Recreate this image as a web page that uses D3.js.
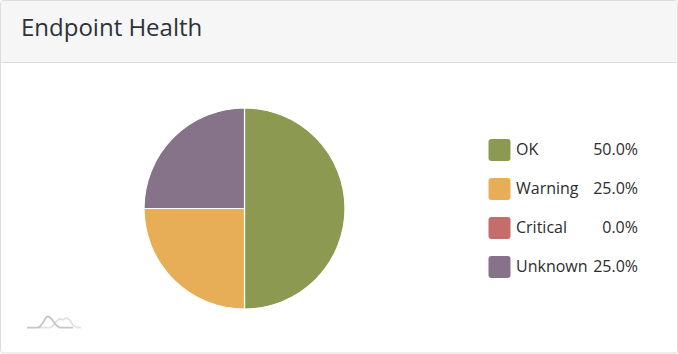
<!DOCTYPE html>
<html>
<head>
<meta charset="utf-8">
<script src="https://cdnjs.cloudflare.com/ajax/libs/d3/7.8.5/d3.min.js"></script>
<style>
	html, body { margin: 0; padding: 0; background: #fff; }
	text { font-family: "Open Sans", sans-serif; }
</style>
</head>
<body>
<div id="wrapper"></div>
<script>
const title = "Endpoint Health";
const categories = ["OK", "Warning", "Critical", "Unknown"];
const shares = [50.0, 25.0, 0.0, 25.0];
const colors = ["#8c9a51", "#e8ad57", "#c56d6b", "#867389"];

const width = 678, height = 354;

const svg = d3.select("#wrapper")
	.append("svg")
	.attr("width", width)
	.attr("height", height)
	.style("display", "block");

// panel and header

svg.append("rect")
	.attr("x", 0.5).attr("y", 0.5)
	.attr("width", width - 1).attr("height", 352.5)
	.attr("rx", 3)
	.attr("fill", "#fff")
	.attr("stroke", "#dddddd");

svg.append("path")
	.attr("d", "M1,62V3.5Q1,1 3.5,1H674.5Q677,1 677,3.5V62Z")
	.attr("fill", "#f6f6f6");

svg.append("line")
	.attr("x1", 1).attr("x2", width - 1)
	.attr("y1", 62.5).attr("y2", 62.5)
	.attr("stroke", "#dddddd");

svg.append("text")
	.attr("x", 21)
	.attr("y", 36)
	.attr("font-size", 24)
	.attr("fill", "#2d323a")
	.text(title);

// pie

const pie = d3.pie().sort(null).value(d => d.share);
const arc = d3.arc().innerRadius(0).outerRadius(100.5);
const slices = categories.map((c, i) => ({ name: c, share: shares[i], color: colors[i] }));

svg.append("g")
	.attr("transform", "translate(244.5,208.5)")
	.selectAll("path")
	.data(pie(slices))
	.join("path")
	.attr("d", arc)
	.attr("fill", d => d.data.color)
	.attr("stroke", "#fff")
	.attr("stroke-width", 1.2);

// legend

const yScale = d3.scalePoint().domain(categories).range([149, 266]);

const rows = svg.append("g")
	.selectAll("g")
	.data(slices)
	.join("g")
	.attr("transform", d => `translate(0,${yScale(d.name)})`);

rows.append("rect")
	.attr("x", 488.5).attr("y", -10)
	.attr("width", 22).attr("height", 22)
	.attr("rx", 3)
	.attr("fill", d => d.color);

rows.append("text")
	.attr("x", 516)
	.attr("y", 6)
	.attr("font-size", 16)
	.attr("fill", "#2d2d2d")
	.text(d => d.name);

rows.append("text")
	.attr("x", 638)
	.attr("y", 6)
	.attr("text-anchor", "end")
	.attr("font-size", 16)
	.attr("fill", "#2d2d2d")
	.text(d => d.share.toFixed(1) + "%");

// small logo bottom left

const logo = svg.append("g").attr("fill", "none").attr("stroke-width", 1.8);
logo.append("path")
	.attr("d", "M38,327.7H50C54,327 56,319 60,319C62,319 63,321.5 65,318.5C68,317 70,320 72,323.5C73,326 75,327.7 81,327.7")
	.attr("stroke", "#e0e0e0");
logo.append("path")
	.attr("d", "M27,327.7H37C43,327.7 44,316.5 48,316.5C52,316.5 54,326 60,327.7H73")
	.attr("stroke", "#c6c6c6");
</script>
</body>
</html>
